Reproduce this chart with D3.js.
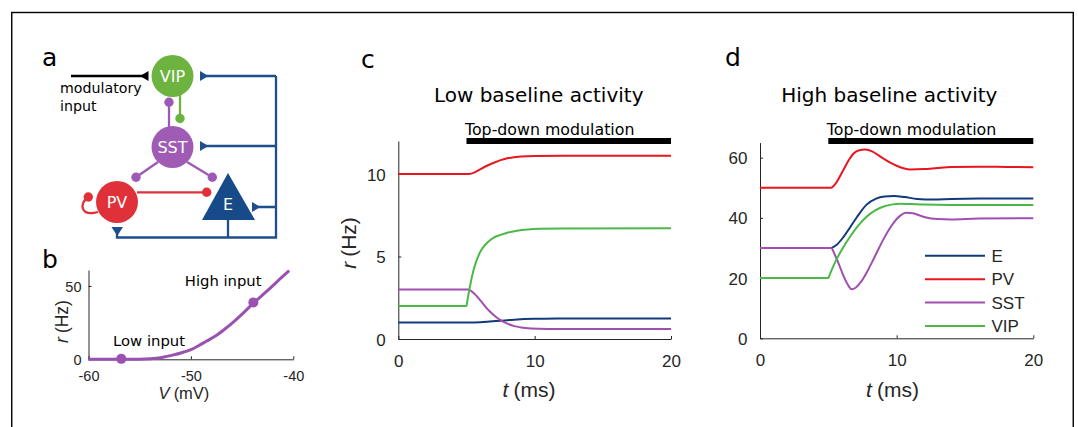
<!DOCTYPE html>
<html><head><meta charset="utf-8">
<script src="https://cdn.jsdelivr.net/npm/d3@7"></script>
<style>body{margin:0;background:#fff}</style>
</head><body><svg id="fig" width="1078" height="427"></svg>
<script>
// ---------------- DATA ----------------
// panel b: firing-rate transfer curve [V (mV), r (Hz)]
const bCurve = [[-60,0],[-57,0],[-55,0.1],[-54,0.4],[-53,1.1],[-52.5,1.8],[-51.7,3],[-50.9,4.5],[-50,6.6],[-49.3,9.1],[-48.5,12.3],[-47.6,15.9],[-46.8,20],[-46,24.5],[-45,30.8],[-43.9,38.3],[-42.5,47],[-41.5,53.5],[-40.4,60.4]];
const bPoints = [[-56.8,0.3],[-43.9,38.8]];
const bPointLabels = ["Low input","High input"];
const bXTicks = [-60,-50,-40];
const bYTicks = [0,50];

// panel c: low baseline activity [t (ms), r (Hz)]
const lowE   = [[0,1],[5.3,1],[6,1.02],[6.7,1.06],[7.5,1.11],[8.5,1.17],[10,1.22],[12,1.24],[15,1.25],[20,1.25]];
const lowPV  = [[0,10],[5.2,10],[5.6,10.1],[6,10.28],[6.5,10.5],[7,10.68],[7.5,10.84],[8,10.95],[9,11.06],[10,11.09],[12,11.1],[20,11.1]];
const lowSST = [[0,3],[5.15,3],[5.5,2.8],[6,2.36],[6.4,1.95],[6.7,1.68],[7.1,1.38],[7.5,1.14],[8,0.93],[8.5,0.78],[9,0.7],[9.7,0.64],[11,0.61],[14,0.6],[20,0.6]];
const lowVIP = [[0,2],[5,2],[5.08,2.4],[5.25,3.17],[5.5,4.12],[6,5.27],[6.5,5.82],[7,6.15],[7.5,6.31],[8,6.44],[8.7,6.56],[9.5,6.64],[10.4,6.68],[12,6.7],[20,6.71]];

// panel d: high baseline activity [t (ms), r (Hz)]
const highE   = [[0,30],[5.2,30],[5.6,31],[6.1,33.6],[6.6,36.9],[7.1,40.3],[7.8,44.4],[8.5,46.4],[9.1,47.1],[9.8,47.3],[10.6,46.9],[11.5,46.3],[12.7,46.1],[14,46.3],[16,46.4],[20,46.4]];
const highPV  = [[0,50],[5.2,50],[5.5,51.2],[5.8,53.4],[6.1,55.9],[6.5,59.2],[6.85,61.4],[7.2,62.4],[7.7,62.7],[8.2,62.1],[8.6,61],[9,59.8],[9.5,58.4],[10,57.3],[10.5,56.5],[11,56.1],[12,56.2],[13,56.6],[14,56.9],[16,57],[18,56.9],[20,56.8]];
const highSST = [[0,30],[5.2,30],[5.5,27.5],[5.8,24.3],[6.1,20.8],[6.4,18],[6.7,16.3],[7,16.8],[7.4,18.8],[7.8,21.8],[8.2,25.3],[8.6,29],[9,32.6],[9.4,35.8],[9.8,38.5],[10.2,40.5],[10.7,41.7],[11.2,41.5],[12,40.3],[13,39.6],[14,39.5],[16,39.8],[20,39.9]];
const highVIP = [[0,20],[5,20],[5.1,21.1],[5.5,25.3],[6,29.5],[6.6,33.8],[7.2,37.5],[7.8,40.4],[8.4,42.4],[9,43.7],[9.6,44.4],[10.3,44.7],[11,44.6],[12,44.4],[14,44.3],[20,44.3]];

const seriesNames = ["E","PV","SST","VIP"];
const modulation = [5,20];
const tTicks = [0,10,20];
const lowYTicks = [0,5,10];
const highYTicks = [0,20,40,60];

// ---------------- STYLE ----------------
const colors = {E:"#123a7a", PV:"#e8161e", SST:"#a04fb0", VIP:"#4cb848"};
const axisCol = "#262626";
const tickFont = "'Liberation Sans', Arial, sans-serif";
const textFont = "'DejaVu Sans', sans-serif";

const svg = d3.select("#fig");
svg.append("rect").attr("x",11.75).attr("y",12.5).attr("width",1061.5).attr("height",440)
  .attr("fill","none").attr("stroke","#000").attr("stroke-width",1.4);

// panel letters
[["a",42,65.5],["b",42,268],["c",361,67.5],["d",725,65.5]].forEach(([t,x,y])=>{
  svg.append("text").attr("x",x).attr("y",y).attr("font-family",textFont).attr("font-size",25).text(t);
});

// ---------------- PANEL A (schematic) ----------------
(function(){
  const g = svg.append("g");
  const blue = "#1f4e8c", green="#6ab33e", purple="#9d59b5", red="#e0313a";
  const lw = 2.3;
  g.append("path").attr("d","M276,76 V237.5 H117 V229").attr("fill","none").attr("stroke",blue).attr("stroke-width",lw);
  g.append("path").attr("d","M228,219 V237.5").attr("fill","none").attr("stroke",blue).attr("stroke-width",lw);
  g.append("path").attr("d","M276,76 H206 M276,146 H206 M276,207 H258").attr("fill","none").attr("stroke",blue).attr("stroke-width",lw);
  [[200,76],[200,146],[252,207]].forEach(([x,y])=>{
    g.append("path").attr("d",`M${x},${y-5} L${x},${y+5} L${x+8.5},${y} Z`).attr("fill",blue);
  });
  g.append("path").attr("d","M111.5,227 L123,227 L117.25,236 Z").attr("fill",blue);
  g.append("path").attr("d","M71,76 H143").attr("stroke","#000").attr("stroke-width",lw);
  g.append("path").attr("d","M148.5,71 L148.5,81 L140,76 Z").attr("fill","#000");
  g.append("text").attr("x",60).attr("y",93.3).attr("font-family",textFont).attr("font-size",14.2).text("modulatory");
  g.append("text").attr("x",60).attr("y",110.7).attr("font-family",textFont).attr("font-size",14.2).text("input");
  const con = (d,col,dx,dy)=>{
    g.append("path").attr("d",d).attr("fill","none").attr("stroke",col).attr("stroke-width",lw);
    g.append("circle").attr("cx",dx).attr("cy",dy).attr("r",4.7).attr("fill",col);
  };
  con("M180,95 V118.5",green,180,118.5);
  con("M169,127 V102.3",purple,169,102.3);
  con("M158,162 L136,177.3",purple,136,177.3);
  con("M187,162 L212.3,177.3",purple,212.3,177.3);
  con("M137,192.3 H206.7",red,206.7,192.3);
  con("M88.3,197 C79,203 80,217 98,212",red,88.3,197);
  g.append("circle").attr("cx",172.5).attr("cy",76).attr("r",21).attr("fill","#6cb33f");
  g.append("circle").attr("cx",172.5).attr("cy",147).attr("r",21).attr("fill","#a05cb4");
  g.append("circle").attr("cx",117).attr("cy",202).attr("r",21).attr("fill","#e0313a");
  g.append("path").attr("d","M228,173 L202,220 L255,220 Z").attr("fill","#164a89");
  [["VIP",172.5,76],["SST",172.5,147],["PV",117,202],["E",228,204]].forEach(([t,x,y])=>{
    g.append("text").attr("x",x).attr("y",y).attr("dy","0.36em").attr("text-anchor","middle")
      .attr("fill","#fff").attr("font-family",textFont).attr("font-size",16).text(t);
  });
})();

// ---------------- helpers ----------------
function styleAxis(ax, size){
  ax.attr("font-family",tickFont).attr("font-size",size);
  ax.select(".domain").attr("stroke",axisCol).attr("stroke-width",1);
  ax.selectAll(".tick line").attr("stroke",axisCol);
  ax.selectAll(".tick text").attr("fill",axisCol);
}

// ---------------- PANEL B ----------------
(function(){
  const x = d3.scaleLinear([-60,-40],[88.5,293.3]);
  const y = d3.scaleLinear([0,60.9],[359.3,270]);
  const g = svg.append("g");
  const ax = g.append("g").attr("transform",`translate(0,${y(0)})`)
    .call(d3.axisBottom(x).tickValues(bXTicks).tickFormat(d=>String(d)).tickSizeInner(-3).tickSizeOuter(0));
  styleAxis(ax,14.5);
  ax.selectAll(".tick text").attr("y",21.5).attr("dy",null);
  const ay = g.append("g").attr("transform",`translate(${x(-60)},0)`)
    .call(d3.axisLeft(y).tickValues(bYTicks).tickFormat(d=>String(d)).tickSizeInner(-3).tickSizeOuter(0).tickPadding(7));
  styleAxis(ay,14.5);
  ay.selectAll(".tick text").attr("dy","0.36em");
  const col = "#9b51b0";
  g.append("path").datum(bCurve).attr("fill","none").attr("stroke",col).attr("stroke-width",3)
    .attr("d",d3.line().x(d=>x(d[0])).y(d=>y(d[1])).curve(d3.curveMonotoneX));
  g.selectAll("circle.pt").data(bPoints).join("circle").attr("class","pt")
    .attr("cx",d=>x(d[0])).attr("cy",d=>y(d[1])).attr("r",5).attr("fill",col);
  g.append("text").attr("x",x(-57.6)).attr("y",y(8.8)).attr("font-family",textFont).attr("font-size",14.8).text(bPointLabels[0]);
  g.append("text").attr("x",x(-50.6)).attr("y",y(50)).attr("font-family",textFont).attr("font-size",14.8).text(bPointLabels[1]);
  const xl = g.append("text").attr("x",184).attr("y",398.5).attr("text-anchor","middle")
    .attr("font-family",tickFont).attr("font-size",16.5).attr("fill",axisCol);
  xl.append("tspan").attr("font-style","italic").text("V");
  xl.append("tspan").attr("dx",4).text("(mV)");
  const yl = g.append("text").attr("transform","translate(68,321.5) rotate(-90)").attr("text-anchor","middle")
    .attr("font-family",tickFont).attr("font-size",17.5).attr("fill",axisCol);
  yl.append("tspan").attr("font-style","italic").text("r");
  yl.append("tspan").attr("dx",4).text("(Hz)");
})();

// ---------------- PANELS C & D ----------------
function timePanel(opts){
  const {x,y,yTicks,data,title,titleX,xLabelX,yLabel,legend} = opts;
  const g = svg.append("g");
  const ax = g.append("g").attr("transform",`translate(0,${y.range()[0]})`)
    .call(d3.axisBottom(x).tickValues(tTicks).tickFormat(d=>String(d)).tickSizeInner(-3).tickSizeOuter(0));
  styleAxis(ax,17);
  ax.selectAll(".tick text").attr("y",27.7).attr("dy",null);
  const ay = g.append("g").attr("transform",`translate(${x.range()[0]},0)`)
    .call(d3.axisLeft(y).tickValues(yTicks).tickFormat(d=>String(d)).tickSizeInner(-3).tickSizeOuter(0).tickPadding(12.5));
  styleAxis(ay,17);
  ay.selectAll(".tick text").attr("dy","0.36em");
  g.append("text").attr("x",titleX).attr("y",102.3).attr("text-anchor","middle")
    .attr("font-family",textFont).attr("font-size",20).text(title);
  g.append("rect").attr("x",x(modulation[0])).attr("y",138).attr("width",x(modulation[1])-x(modulation[0])).attr("height",6).attr("fill","#000");
  g.append("text").attr("x",x(modulation[0])-1.5).attr("y",134.5)
    .attr("font-family",textFont).attr("font-size",15.8).text("Top-down modulation");
  const line = d3.line().x(d=>x(d[0])).y(d=>y(d[1])).curve(d3.curveMonotoneX);
  seriesNames.forEach(n=>{
    g.append("path").datum(data[n]).attr("fill","none").attr("stroke",colors[n]).attr("stroke-width",2).attr("d",line);
  });
  const xl = g.append("text").attr("x",xLabelX).attr("y",396.7).attr("text-anchor","middle")
    .attr("font-family",tickFont).attr("font-size",21).attr("fill",axisCol);
  xl.append("tspan").attr("font-style","italic").text("t");
  xl.append("tspan").attr("dx",5).text("(ms)");
  if(yLabel){
    const yl = g.append("text").attr("transform",`translate(356,243) rotate(-90)`).attr("text-anchor","middle")
      .attr("font-family",tickFont).attr("font-size",21).attr("fill",axisCol);
    yl.append("tspan").attr("font-style","italic").text("r");
    yl.append("tspan").attr("dx",5).text("(Hz)");
  }
  if(legend){
    seriesNames.forEach((n,i)=>{
      const yy = 255.7 + i*23.45;
      g.append("line").attr("x1",925).attr("x2",985).attr("y1",yy).attr("y2",yy).attr("stroke",colors[n]).attr("stroke-width",2);
      g.append("text").attr("x",991.5).attr("y",yy).attr("dy","0.36em").attr("font-family",tickFont)
        .attr("font-size",17).attr("fill",axisCol).text(n);
    });
  }
}

timePanel({
  x: d3.scaleLinear([0,20],[398.3,671]),
  y: d3.scaleLinear([0,12],[339,141]),
  yTicks: lowYTicks,
  data: {E:lowE, PV:lowPV, SST:lowSST, VIP:lowVIP},
  title: "Low baseline activity", titleX: 538.7, xLabelX: 529, yLabel: true, legend: false
});
timePanel({
  x: d3.scaleLinear([0,20],[760,1033.3]),
  y: d3.scaleLinear([0,65],[338.3,142.6]),
  yTicks: highYTicks,
  data: {E:highE, PV:highPV, SST:highSST, VIP:highVIP},
  title: "High baseline activity", titleX: 889.3, xLabelX: 892.5, yLabel: false, legend: true
});
</script></body></html>
